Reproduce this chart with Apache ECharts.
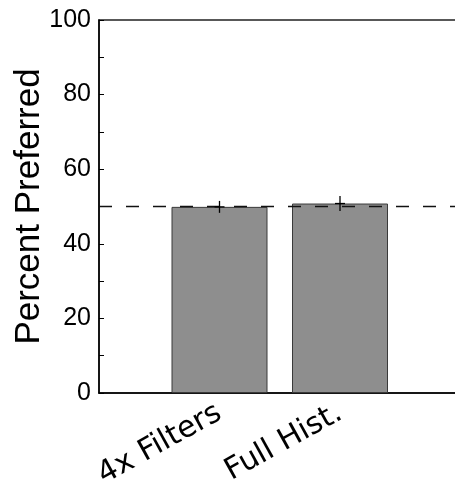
<!DOCTYPE html>
<html>
<head>
<meta charset="utf-8">
<script src="https://cdn.jsdelivr.net/npm/echarts@6/dist/echarts.min.js"></script>
<style>
html,body{margin:0;padding:0;background:#fff;}
#chart{width:455px;height:484px;}
</style>
</head>
<body>
<div id="chart"></div>
<script>
// Data
var categories = ['4x Filters', 'Full Hist.'];
var categoryPositions = [1, 2];
var percentPreferred = [49.9, 50.8];
var errorHalfWidth = [1.6, 2.0];
var referenceLevel = 50;
var yTickLabels = [0, 20, 40, 60, 80, 100];

var barData = categoryPositions.map(function (x, i) { return [x, percentPreferred[i]]; });
var errData = categoryPositions.map(function (x, i) {
  return [x, percentPreferred[i], percentPreferred[i] - errorHalfWidth[i], percentPreferred[i] + errorHalfWidth[i]];
});

var chart = echarts.init(document.getElementById('chart'), null, {renderer: 'canvas'});
chart.setOption({
  animation: false,
  backgroundColor: '#fff',
  grid: {left: 99, top: 20, width: 361.5, height: 373, show: true, borderColor: '#222', borderWidth: 1.5,
         backgroundColor: 'transparent', outerBoundsMode: 'none', containLabel: false},
  xAxis: {
    type: 'value', min: 0, max: 3, interval: 1,
    axisLine: {show: true, lineStyle: {color: '#000', width: 1.5}},
    axisTick: {show: false},
    splitLine: {show: false},
    axisLabel: {
      rotate: 29, margin: 18,
      fontFamily: 'DejaVu Sans', fontSize: 30, color: '#000',
      formatter: function (v) {
        var i = categoryPositions.indexOf(v);
        return i >= 0 ? categories[i] : '';
      }
    }
  },
  yAxis: {
    type: 'value', min: 0, max: 100, interval: 10,
    name: 'Percent Preferred', nameLocation: 'middle', nameGap: 52, nameMoveOverlap: false,
    nameTextStyle: {fontFamily: 'Liberation Sans', fontSize: 35, color: '#000'},
    axisLine: {show: true, lineStyle: {color: '#000', width: 1.5}},
    axisTick: {show: true, inside: true, length: 5, lineStyle: {color: '#000', width: 1}},
    splitLine: {show: false},
    axisLabel: {
      margin: 8, fontFamily: 'Liberation Sans', fontSize: 25, color: '#000',
      formatter: function (v) { return yTickLabels.indexOf(v) >= 0 ? String(v) : ''; }
    }
  },
  series: [
    {
      type: 'bar', data: barData, barWidth: 96,
      itemStyle: {color: '#8e8e8e', borderColor: '#3a3a3a', borderWidth: 1},
      markLine: {
        silent: true, symbol: 'none', label: {show: false},
        lineStyle: {color: '#111', type: [13, 14], width: 1.4},
        data: [{yAxis: referenceLevel}]
      },
      z: 2
    },
    {
      type: 'custom', data: errData, z: 5,
      renderItem: function (params, api) {
        var x = api.value(0);
        var m = api.coord([x, api.value(1)]);
        var lo = api.coord([x, api.value(2)]);
        var hi = api.coord([x, api.value(3)]);
        var st = {stroke: '#000', lineWidth: 1.3};
        return {type: 'group', children: [
          {type: 'line', shape: {x1: lo[0], y1: lo[1], x2: hi[0], y2: hi[1]}, style: st},
          {type: 'line', shape: {x1: m[0] - 5, y1: m[1], x2: m[0] + 5, y2: m[1]}, style: st}
        ]};
      }
    }
  ]
});
</script>
</body>
</html>
